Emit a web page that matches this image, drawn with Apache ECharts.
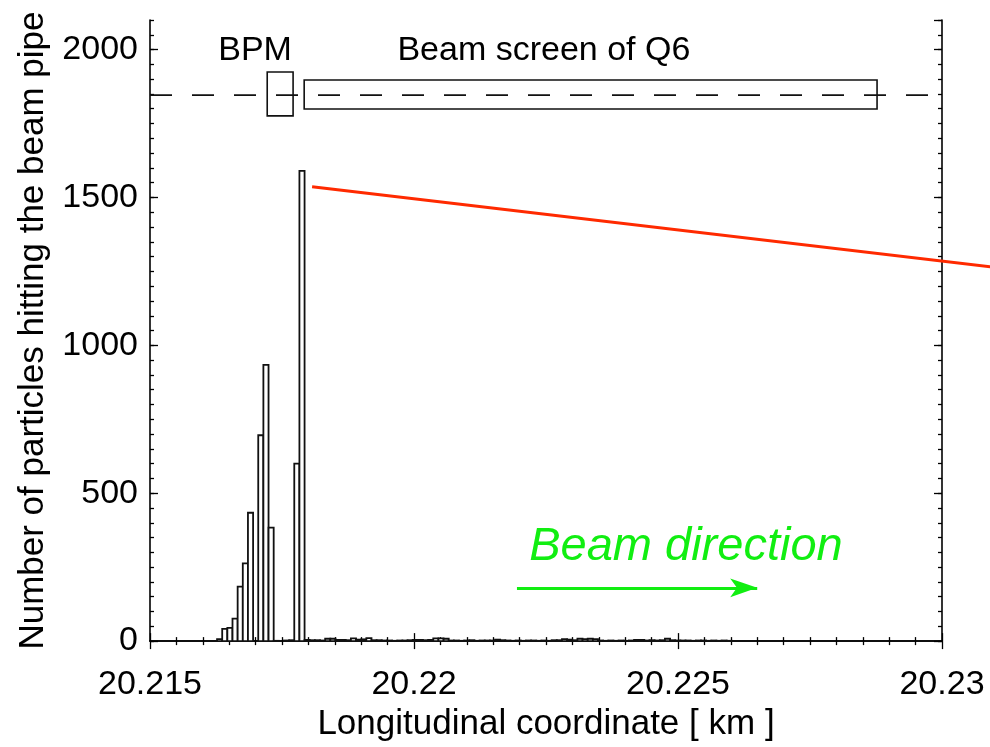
<!DOCTYPE html>
<html>
<head>
<meta charset="utf-8">
<script src="https://cdn.jsdelivr.net/npm/echarts@6/dist/echarts.min.js"></script>
<style>
html,body{margin:0;padding:0;background:#fff;}
#chart{width:990px;height:747px;}
</style>
</head>
<body>
<div id="chart"></div>
<script>
// Histogram: bin start (km), bin width (km), counts per bin
var histStart = 20.21627;
var binWidth = 0.0000975;
var counts = [7,
  41,45,76,184,263,434,0,696,934,384,1,0,2,3,600,1590,
  4,3,3,2,8,8,4,4,3,9,5,6,10,3,3,2,2,1,2,2,
  3,4,4,3,4,9,9,8,2,2,1,2,3,1,2,2,2,5,3,2,
  1,2,1,2,2,1,2,1,3,3,7,5,3,8,7,8,7,2,1,
  2,1,2,1,2,4,4,2,3,2,3,8,3,2,2,2,1,2,2,1,
  2,1,2,1];

// axis ticks
var xTicks = [20.215, 20.22, 20.225, 20.23];
var yTicks = [0, 500, 1000, 1500, 2000];

// element boxes [x0, x1, yBottom, yTop] and labels
var boxes = [[20.21722, 20.21771, 1776, 1924], [20.21792, 20.22877, 1799, 1897]];
var boxLabels = [["BPM", 20.21699, 1998], ["Beam screen of Q6", 20.22246, 1998]];
var dashedLevel = 1846;

// annotations
var redLine = [[20.21807, 1536], [20.23095, 1265]];
var arrowLine = [[20.22195, 180], [20.2265, 180]];
var beamText = ["Beam direction", 20.22515, 320];

var xMin = xTicks[0], xMax = xTicks[xTicks.length - 1];
var yMin = 0, yMax = 2100;

var histData = counts.map(function (c, i) {
  return [histStart + i * binWidth, histStart + (i + 1) * binWidth, c];
});

var FONT = 'Liberation Sans';
var chart = echarts.init(document.getElementById('chart'), null, {renderer: 'canvas'});

var axisLineStyle = {color: '#000', width: 1.6};
var tickStyle = {color: '#000', width: 1.3};

var option = {
  backgroundColor: '#fff',
  animation: false,
  grid: {left: 150, right: 48, top: 20, bottom: 103.5, show: false},
  xAxis: [{
    type: 'value', min: xMin, max: xMax, interval: 0.005, position: 'bottom',
    axisLine: {show: true, lineStyle: axisLineStyle},
    axisTick: {show: true, inside: true, length: 8, lineStyle: tickStyle},
    minorTick: {show: true, splitNumber: 10, length: 4, lineStyle: tickStyle},
    splitLine: {show: false},
    axisLabel: {fontFamily: FONT, fontSize: 34, color: '#000', margin: 27,
      formatter: function (v) { return String(parseFloat(v.toFixed(3))); }},
    name: 'Longitudinal coordinate [ km ]', nameLocation: 'middle', nameGap: 56,
    nameTextStyle: {fontFamily: FONT, fontSize: 35, color: '#000'}
  }, {
    type: 'value', min: xMin, max: xMax, interval: 0.005, position: 'top',
    axisLine: {show: true, lineStyle: axisLineStyle},
    axisTick: {show: true, inside: true, length: 8, lineStyle: tickStyle},
    minorTick: {show: true, splitNumber: 10, length: 4, lineStyle: tickStyle},
    splitLine: {show: false}, axisLabel: {show: false}
  }],
  yAxis: [{
    type: 'value', min: yMin, max: yMax, interval: 500, position: 'left',
    axisLine: {show: true, lineStyle: axisLineStyle},
    axisTick: {show: true, inside: true, length: 8, lineStyle: tickStyle},
    splitLine: {show: false},
    axisLabel: {fontFamily: FONT, fontSize: 34, color: '#000', margin: 12, showMaxLabel: false,
      formatter: function (v) { return yTicks.indexOf(v) >= 0 ? String(v) : ''; }},
    name: 'Number of particles hitting the beam pipe', nameLocation: 'middle', nameGap: 99,
    nameTextStyle: {fontFamily: FONT, fontSize: 35, color: '#000'}
  }, {
    type: 'value', min: yMin, max: yMax, interval: 50, position: 'left',
    axisLine: {show: false},
    axisTick: {show: true, inside: true, length: 4, lineStyle: tickStyle},
    splitLine: {show: false}, axisLabel: {show: false}
  }, {
    type: 'value', min: yMin, max: yMax, interval: 500, position: 'right',
    axisLine: {show: true, lineStyle: axisLineStyle},
    axisTick: {show: true, inside: true, length: 8, lineStyle: tickStyle},
    splitLine: {show: false}, axisLabel: {show: false}
  }, {
    type: 'value', min: yMin, max: yMax, interval: 50, position: 'right',
    axisLine: {show: false},
    axisTick: {show: true, inside: true, length: 4, lineStyle: tickStyle},
    splitLine: {show: false}, axisLabel: {show: false}
  }],
  series: [{
    type: 'custom', name: 'hist',
    xAxisIndex: 0, yAxisIndex: 0,
    data: histData,
    encode: {x: [0, 1], y: 2},
    renderItem: function (params, api) {
      var v = api.value(2);
      if (v <= 0) return null;
      var p0 = api.coord([api.value(0), 0]);
      var p1 = api.coord([api.value(1), v]);
      return {
        type: 'rect',
        shape: {x: p0[0], y: p1[1], width: p1[0] - p0[0], height: p0[1] - p1[1]},
        style: {fill: '#fff', stroke: '#111', lineWidth: 1.8}
      };
    },
    z: 2
  }, {
    type: 'line', name: 'dashed',
    data: [[xMin, dashedLevel], [xMax, dashedLevel]],
    symbol: 'none', silent: true,
    lineStyle: {color: '#111', width: 1.6, type: [22, 20]},
    z: 3
  }, {
    type: 'custom', name: 'boxes',
    data: boxes,
    encode: {x: [0, 1], y: [2, 3]},
    renderItem: function (params, api) {
      var p0 = api.coord([api.value(0), api.value(2)]);
      var p1 = api.coord([api.value(1), api.value(3)]);
      return {
        type: 'rect',
        shape: {x: p0[0], y: p1[1], width: p1[0] - p0[0], height: p0[1] - p1[1]},
        style: {fill: 'none', stroke: '#111', lineWidth: 1.6}
      };
    },
    z: 4
  }, {
    type: 'custom', name: 'boxLabels',
    data: boxLabels.map(function (b) { return [b[1], b[2]]; }),
    renderItem: function (params, api) {
      var p = api.coord([api.value(0), api.value(1)]);
      return {
        type: 'text',
        x: p[0], y: p[1],
        style: {text: boxLabels[params.dataIndex][0], fill: '#000', font: '34px "Liberation Sans"',
          align: 'center', verticalAlign: 'middle'}
      };
    },
    z: 4
  }, {
    type: 'custom', name: 'redLine',
    data: [[redLine[0][0], redLine[0][1], redLine[1][0], redLine[1][1]]],
    clip: false, silent: true,
    renderItem: function (params, api) {
      var a = api.coord([api.value(0), api.value(1)]);
      var b = api.coord([api.value(2), api.value(3)]);
      return {
        type: 'line',
        shape: {x1: a[0], y1: a[1], x2: b[0], y2: b[1]},
        style: {stroke: '#ff2a00', lineWidth: 3}
      };
    },
    z: 5
  }, {
    type: 'line', name: 'arrow',
    data: arrowLine, clip: false, symbol: 'none', silent: true,
    lineStyle: {color: '#11ee11', width: 0, opacity: 0},
    markLine: {
      silent: true, symbol: ['none', 'arrow'], symbolSize: [14, 27],
      label: {show: false},
      lineStyle: {color: '#11ee11', width: 3, type: 'solid'},
      data: [[{coord: arrowLine[0]}, {coord: arrowLine[1]}]]
    },
    z: 5
  }, {
    type: 'custom', name: 'beamText',
    data: [[beamText[1], beamText[2]]],
    renderItem: function (params, api) {
      var p = api.coord([api.value(0), api.value(1)]);
      return {
        type: 'text', x: p[0], y: p[1],
        style: {text: beamText[0], fill: '#11ee11', font: 'italic 47px "Liberation Sans"',
          align: 'center', verticalAlign: 'middle'}
      };
    },
    z: 5
  }]
};
chart.setOption(option);
</script>
</body>
</html>
